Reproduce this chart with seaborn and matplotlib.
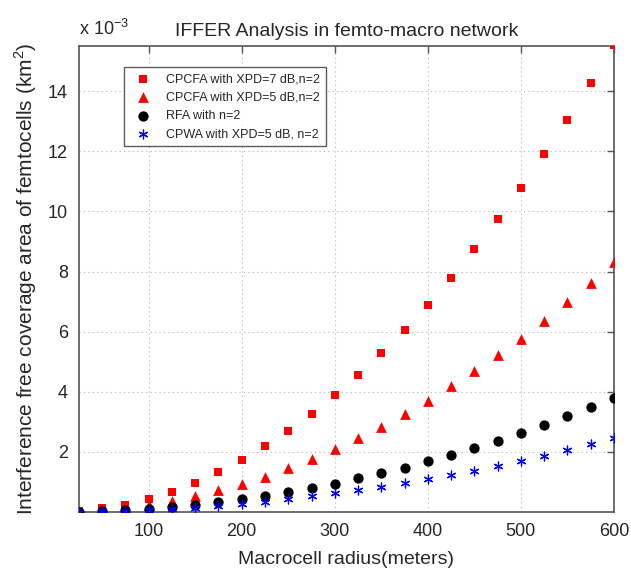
import pandas as pd
import matplotlib.pyplot as plt
import seaborn as sns
import numpy as np

# macrocell radius (m) and interference free area (x 1e-3 km^2)
radius = list(range(25, 601, 25))
cpcfa_7db = [0.03, 0.12, 0.25, 0.44, 0.68, 0.97, 1.32, 1.73, 2.19, 2.70, 3.27, 3.89,
             4.56, 5.29, 6.06, 6.90, 7.80, 8.74, 9.74, 10.79, 11.90, 13.05, 14.27, 15.55]
cpcfa_5db = [0.01, 0.06, 0.13, 0.23, 0.37, 0.53, 0.72, 0.93, 1.18, 1.46, 1.76, 2.09,
             2.45, 2.84, 3.25, 3.70, 4.18, 4.68, 5.21, 5.77, 6.36, 6.98, 7.63, 8.31]
rfa = [0.01, 0.03, 0.06, 0.11, 0.17, 0.24, 0.32, 0.42, 0.53, 0.66, 0.80, 0.95,
       1.12, 1.29, 1.48, 1.69, 1.91, 2.14, 2.38, 2.64, 2.91, 3.19, 3.49, 3.80]
cpwa_5db = [0.00, 0.02, 0.04, 0.07, 0.11, 0.15, 0.21, 0.27, 0.35, 0.43, 0.52, 0.62,
            0.72, 0.84, 0.96, 1.09, 1.23, 1.38, 1.54, 1.71, 1.88, 2.07, 2.26, 2.46]

labels = ['CPCFA with XPD=7 dB,n=2', 'CPCFA with XPD=5 dB,n=2',
          'RFA with n=2', 'CPWA with XPD=5 dB, n=2']

sns.set_style('white')
plt.rcParams['font.family'] = ['Liberation Sans', 'DejaVu Sans']
plt.rcParams['mathtext.fontset'] = 'custom'
plt.rcParams['mathtext.rm'] = 'Liberation Sans'

fig = plt.figure(figsize=(6.31, 5.69), dpi=100)
ax = fig.add_axes([0.125, 0.100, 0.848, 0.819])

sns.scatterplot(x=radius, y=cpcfa_7db, marker='s', color='red', s=36,
                edgecolor='red', linewidth=0, label=labels[0], ax=ax, zorder=3)
sns.scatterplot(x=radius, y=cpcfa_5db, marker='^', color='red', s=60,
                edgecolor='red', linewidth=0, label=labels[1], ax=ax, zorder=3)
sns.scatterplot(x=radius, y=rfa, marker='o', color='black', s=55,
                edgecolor='black', linewidth=0, label=labels[2], ax=ax, zorder=3)
sns.scatterplot(x=radius, y=cpwa_5db, marker=(6, 2, 0), color='blue', s=40,
                linewidth=0.9, label=labels[3], ax=ax, zorder=3)

ax.set_xlim(25, 600)
ax.set_ylim(0, 15.5)
ax.set_xticks([100, 200, 300, 400, 500, 600])
ax.set_yticks([2, 4, 6, 8, 10, 12, 14])
ax.grid(True, linestyle=(0, (1, 3)), color='#b0b0b0', linewidth=0.8)
ax.tick_params(direction='in', top=True, right=True, length=5, width=1,
               color='#555555', labelsize=13, pad=8)
for sp in ax.spines.values():
    sp.set_color('#555555')
    sp.set_linewidth(1.2)

ax.set_xlabel('Macrocell radius(meters)', fontsize=14, labelpad=8)
ax.set_ylabel('Interference free coverage area of femtocells (km$^2$)', fontsize=15, labelpad=6)
ax.set_title('IFFER Analysis in femto-macro network', fontsize=14, pad=7)
ax.text(0.0, 1.015, 'x 10$^{-3}$', transform=ax.transAxes, fontsize=13,
        ha='left', va='bottom')

leg = ax.legend(loc='upper left', bbox_to_anchor=(0.084, 0.955), borderaxespad=0,
                fontsize=9, frameon=True, fancybox=False, handletextpad=0.9,
                labelspacing=0.5, borderpad=0.5)
leg.get_frame().set_edgecolor('#333333')
leg.get_frame().set_linewidth(1.0)

plt.savefig('out.png', dpi=100)
